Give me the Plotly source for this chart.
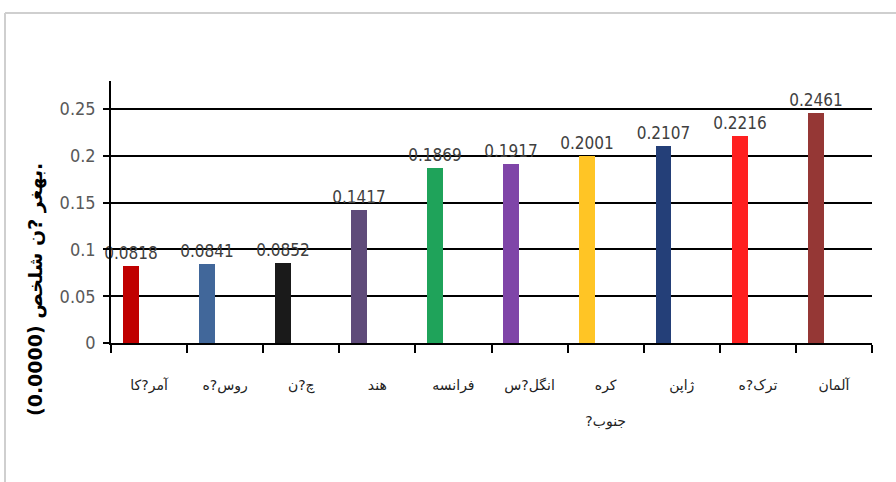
import plotly.graph_objects as go

categories = ["آمر?کا", "روس?ه", "چ?ن", "هند", "فرانسه", "انگل?س", "کره<br><br>?جنوب", "ژاپن", "ترک?ه", "آلمان"]
values = [0.0818, 0.0841, 0.0852, 0.1417, 0.1869, 0.1917, 0.2001, 0.2107, 0.2216, 0.2461]
value_labels = ["0.0818", "0.0841", "0.0852", "0.1417", "0.1869", "0.1917", "0.2001", "0.2107", "0.2216", "0.2461"]
colors = ["#C00000", "#41679A", "#1A1A1A", "#5F4B7A", "#1FA35A", "#7F45A8",
          "#FFC525", "#243F78", "#FF2020", "#953735"]
y_ticks = [0, 0.05, 0.1, 0.15, 0.2, 0.25]
y_tick_text = ["0", "0.05", "0.1", "0.15", "0.2", "0.25"]
y_title = "(0.0000) بهغر ?ن شلخص."

W, H = 896, 482
L, R, T, B = 111, 24, 81, 139
pw, ph = W - L - R, H - T - B

NARROW = "DejaVu Sans Condensed, Liberation Sans Narrow, Liberation Sans, sans-serif"

fig = go.Figure()
fig.add_trace(go.Bar(
    x=categories, y=values,
    marker=dict(color=colors, line=dict(width=0)),
    width=0.21, offset=-0.345,
    text=value_labels, textposition="outside", cliponaxis=False,
    constraintext="none",
    textfont=dict(family=NARROW, size=17, color="#404040"),
))

fig.update_layout(
    width=W, height=H,
    margin=dict(l=L, r=R, t=T, b=B),
    paper_bgcolor="white", plot_bgcolor="white",
    showlegend=False,
    font=dict(family=NARROW),
    xaxis=dict(
        type="category", tickson="boundaries", ticks="outside", ticklen=8,
        tickwidth=1.5, tickcolor="black",
        showline=True, linecolor="black", linewidth=1.5, showgrid=False,
        tickfont=dict(family="DejaVu Sans, sans-serif", size=14, color="#222"),
        ticklabelstandoff=28,
    ),
    yaxis=dict(
        range=[0, 0.28], tickvals=y_ticks, ticktext=y_tick_text,
        ticks="outside", ticklen=6, tickwidth=1.5, tickcolor="black",
        showline=True, linecolor="black", linewidth=1.5,
        showgrid=True, gridcolor="black", gridwidth=1.5, zeroline=False,
        tickfont=dict(family=NARROW, size=18, color="#595959"),
        ticklabelstandoff=4,
    ),
    bargap=0,
)

fig.add_annotation(
    text="<b>" + y_title + "</b>", textangle=-90, showarrow=False,
    xref="paper", yref="paper",
    x=(35 - L) / pw, y=(H - B - 290) / ph,
    xanchor="center", yanchor="middle",
    font=dict(family="DejaVu Sans, sans-serif", size=19, color="black"),
)

# outer frame (light grey)
fx = (5 - L) / pw
fy = 1 + (T - 13) / ph
fig.add_shape(type="line", xref="paper", yref="paper", x0=fx, x1=(W - L) / pw + 0.01, y0=fy, y1=fy,
              line=dict(color="#cfcfcf", width=2))
fig.add_shape(type="line", xref="paper", yref="paper", x0=fx, x1=fx, y0=fy, y1=-(B) / ph - 0.01,
              line=dict(color="#cfcfcf", width=2))

fig.write_html("out.html", config={"displayModeBar": False},
               post_script="document.body.style.margin='0';document.body.style.overflow='hidden';")
